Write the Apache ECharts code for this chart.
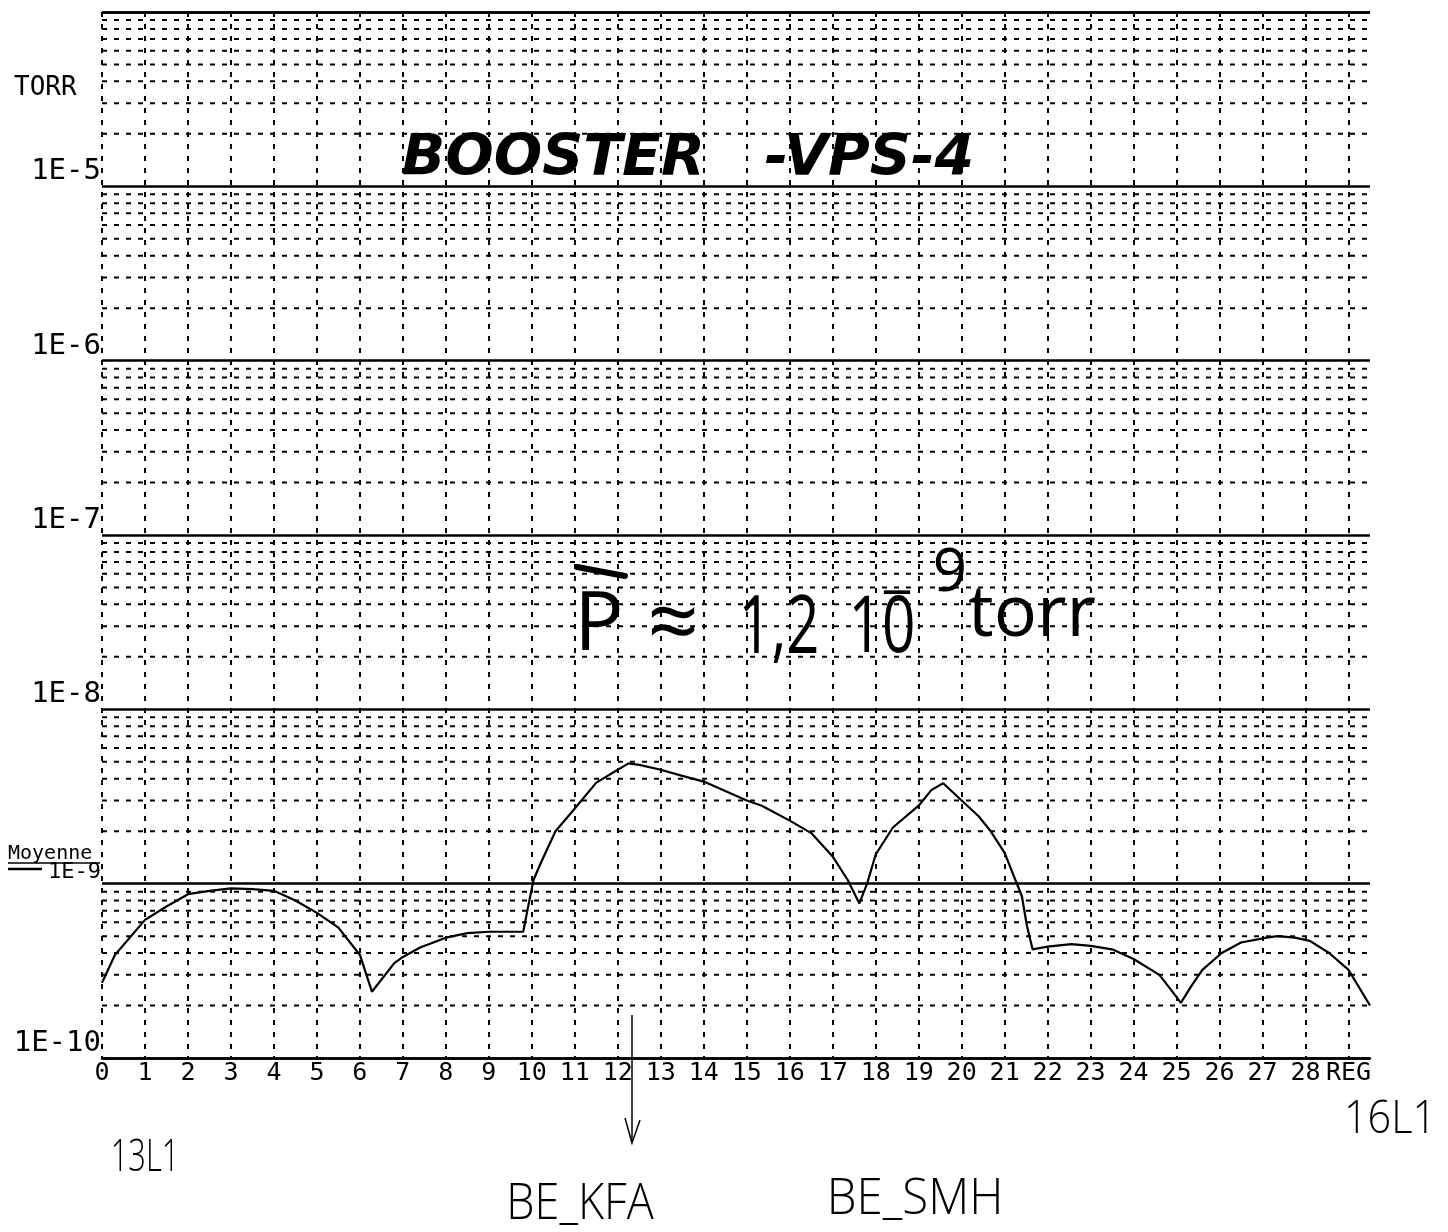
<!DOCTYPE html>
<html><head><meta charset="utf-8">
<script src="https://cdn.jsdelivr.net/npm/echarts@6/dist/echarts.min.js"></script>
<style>html,body{margin:0;padding:0;background:#fff}#c{width:1448px;height:1232px}</style>
</head><body><div id="c"></div>
<script>
// Position along the ring (x axis units)
const positions = [0, 0.3, 1.0, 1.5, 2.0, 2.5, 3.0, 3.5, 4.0, 4.5, 5.0, 5.5, 6.0, 6.28, 6.8, 7.0, 7.4, 8.0, 8.5, 9.0, 9.8, 9.9,
  10.04, 10.2, 10.55, 11.0, 11.5, 12.0, 12.25, 12.5, 13.0, 13.5, 14.0, 14.5, 15.0, 15.35, 16.0, 16.5, 17.0, 17.35, 17.62, 17.8,
  18.0, 18.4, 19.0, 19.3, 19.57, 20.0, 20.4, 20.65, 21.0, 21.25, 21.4, 21.52, 21.65, 22.0, 22.55, 23.0, 23.5, 24.0, 24.6, 24.85,
  25.1, 25.35, 25.6, 26.05, 26.5, 27.1, 27.35, 27.75, 28.1, 28.55, 29.0, 29.5];
// Pressure (torr)
const pressure = [2.7e-10, 3.9e-10, 6.2e-10, 7.4e-10, 8.7e-10, 9.1e-10, 9.4e-10, 9.3e-10, 9.1e-10, 8.0e-10, 6.8e-10, 5.6e-10, 3.9e-10, 2.4e-10, 3.5e-10, 3.8e-10, 4.3e-10, 4.9e-10, 5.2e-10, 5.3e-10, 5.3e-10, 7.1e-10,
  1.05e-9, 1.3e-9, 2.0e-9, 2.7e-9, 3.8e-9, 4.5e-9, 4.9e-9, 4.8e-9, 4.5e-9, 4.15e-9, 3.85e-9, 3.4e-9, 3.0e-9, 2.8e-9, 2.3e-9, 1.95e-9, 1.43e-9, 1.05e-9, 7.7e-10, 1.0e-9,
  1.47e-9, 2.1e-9, 2.8e-9, 3.45e-9, 3.77e-9, 3.0e-9, 2.43e-9, 2.04e-9, 1.5e-9, 1.05e-9, 8.5e-10, 5.7e-10, 4.2e-10, 4.35e-10, 4.5e-10, 4.4e-10, 4.2e-10, 3.7e-10, 3.0e-10, 2.5e-10,
  2.07e-10, 2.6e-10, 3.2e-10, 4.0e-10, 4.6e-10, 4.9e-10, 5.0e-10, 4.9e-10, 4.7e-10, 4.0e-10, 3.2e-10, 2.0e-10];
// X tick labels (ticks 0..29)
const xTickLabels = ['0','1','2','3','4','5','6','7','8','9','10','11','12','13','14','15','16','17','18','19','20','21','22','23','24','25','26','27','28','REG'];
const xMin = 0, xMax = 29.5;
// Y decades (exponents) with labels
const yDecades = [-10, -9, -8, -7, -6, -5];
const yLabels = {'-10':'1E-10','-9':'1E-9','-8':'1E-8','-7':'1E-7','-6':'1E-6','-5':'1E-5','-4':''};
const minorMultipliers = [2, 3, 4, 5, 6, 7, 8, 9];

// minor log gridlines as one broken line series
const minorData = [];
yDecades.forEach(d => minorMultipliers.forEach(m => {
  const v = m * Math.pow(10, d);
  minorData.push([xMin, v], [xMax, v], [xMax, null]);
}));

const dotted = { color: '#000', width: 2, type: [5, 7] };
const mono = '"DejaVu Sans Mono", monospace';
const hand = '"Open Sans", "Noto Sans", sans-serif';
const T = (x, y, text, font, extra) => Object.assign({ type: 'text', x, y, style: { text, font, fill: '#000', align: 'center', verticalAlign: 'middle', textAlign: 'center', textVerticalAlign: 'middle' } }, extra || {});

const chart = echarts.init(document.getElementById('c'), null, { renderer: 'canvas' });
chart.setOption({
  animation: false,
  backgroundColor: '#fff',
  grid: { left: 102, right: 78, top: 12, bottom: 174, containLabel: false },
  xAxis: {
    type: 'value', min: xMin, max: xMax, interval: 1,
    axisLine: { show: true, onZero: false, lineStyle: { color: '#000', width: 2.5 } },
    axisTick: { show: false },
    axisLabel: {
      color: '#000', fontFamily: mono, fontSize: 25, margin: 3,
      formatter: v => (Number.isInteger(v) && xTickLabels[v] !== undefined) ? xTickLabels[v] : ''
    },
    splitLine: { show: true, showMinLine: true, showMaxLine: false, lineStyle: dotted }
  },
  yAxis: {
    type: 'log', logBase: 10, min: 1e-10, max: 1e-4, splitNumber: 6,
    axisLine: { show: false }, axisTick: { show: false },
    axisLabel: {
      color: '#000', fontFamily: mono, fontSize: 29, margin: 1, verticalAlign: 'bottom',
      formatter: v => { const e = Math.round(Math.log10(v)); const t = yLabels[String(e)] || ''; return e === -9 ? '{s|' + t + '}' : t; },
      rich: { s: { fontFamily: mono, fontSize: 22, color: '#000' } }
    },
    splitLine: { show: true, lineStyle: { color: '#000', width: 2.5, type: 'solid' } }
  },
  series: [
    {
      name: 'minor', type: 'line', data: minorData, showSymbol: false, symbol: 'none', silent: true,
      connectNulls: false, lineStyle: dotted, z: 1
    },
    {
      name: 'pressure', type: 'line', data: positions.map((x, i) => [x, pressure[i]]),
      showSymbol: false, symbol: 'none', clip: true,
      lineStyle: { color: '#000', width: 2.2 }, z: 5
    }
  ],
  graphic: [
    { type: 'text', x: 14, y: 88, style: { text: 'TORR', font: '26px ' + mono, fill: '#000', align: 'left', verticalAlign: 'middle', textAlign: 'left', textVerticalAlign: 'middle' } },
    { type: 'text', x: 8, y: 854, style: { text: 'Moyenne', font: '20px ' + mono, fill: '#000', align: 'left', verticalAlign: 'middle', textAlign: 'left', textVerticalAlign: 'middle' } },
    { type: 'line', shape: { x1: 8, y1: 863, x2: 100, y2: 863 }, style: { stroke: '#000', lineWidth: 1.5 } },
    { type: 'line', shape: { x1: 8, y1: 869, x2: 42, y2: 869 }, style: { stroke: '#000', lineWidth: 2.5 } },
    T(688, 160, 'BOOSTER   -VPS-4', 'italic bold 57px "DejaVu Sans", sans-serif'),
    // handwritten mean pressure
    { type: 'line', shape: { x1: 577, y1: 567, x2: 625, y2: 576 }, style: { stroke: '#000', lineWidth: 6, lineCap: 'round' } },
    T(599, 627, 'P', '82px ' + hand),
    T(673, 627, '≈', '90px ' + hand),
    T(779, 630, '1,2', '80px ' + hand, { scaleX: 0.72 }),
    T(882, 630, '10', '78px ' + hand, { scaleX: 0.75 }),
    T(897, 596, '−', '56px ' + hand),
    T(950, 574, '9', '60px ' + hand),
    T(1032, 615, 'torr', '72px ' + hand),
    // bottom annotations
    T(145, 1158, '13L1', '300 44px ' + hand, { scaleX: 0.7 }),
    T(1390, 1120, '16L1', '300 46px ' + hand, { scaleX: 0.9 }),
    { type: 'line', shape: { x1: 632, y1: 1015, x2: 632, y2: 1142 }, style: { stroke: '#000', lineWidth: 1.5 } },
    { type: 'polyline', shape: { points: [[625, 1118], [632, 1143], [640, 1120]] }, style: { stroke: '#000', lineWidth: 1.5, fill: null } },
    T(580, 1205, 'BE_KFA', '300 50px ' + hand, { scaleX: 0.9 }),
    T(915, 1200, 'BE_SMH', '300 50px ' + hand, { scaleX: 0.95 })
  ]
});
</script>
</body></html>
